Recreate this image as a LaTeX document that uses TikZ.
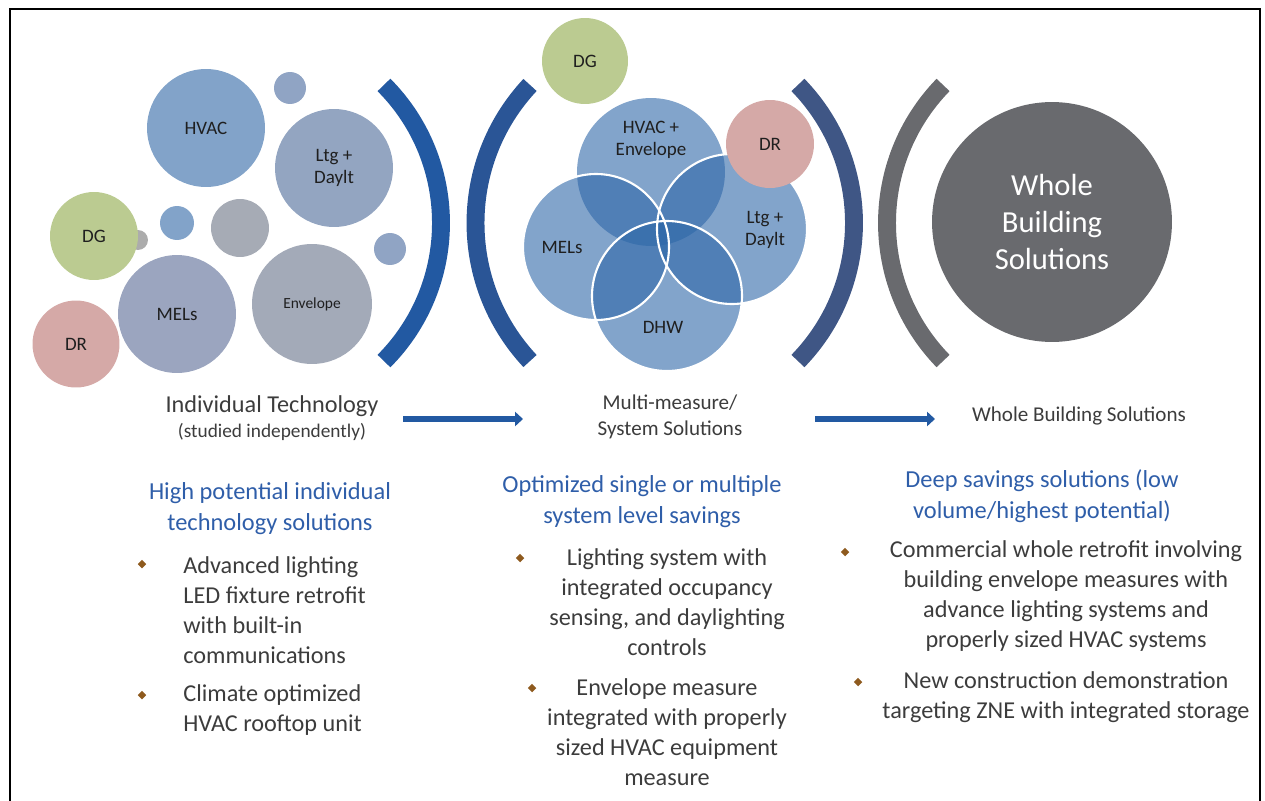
\documentclass[tikz,border=0pt]{standalone}
\usepackage{fontspec}
\setmainfont{Carlito}
\usepackage{xcolor}
\usepackage{tikz}
\usetikzlibrary{arrows.meta}
\usetikzlibrary{shapes.geometric, calc}
\definecolor{hvacblue}{HTML}{82A3C9}
\definecolor{ltgblue}{HTML}{93A5C1}
\definecolor{melsblue}{HTML}{9BA5BF}
\definecolor{envgray}{HTML}{A3AAB8}
\definecolor{dotblue}{HTML}{90A4C4}
\definecolor{dotgray}{HTML}{A6ABB5}
\definecolor{dggreen}{HTML}{BBCB91}
\definecolor{drpink}{HTML}{D5A9A7}
\definecolor{vennblue}{HTML}{2E67A8}
\definecolor{brkblue}{HTML}{2259A2}
\definecolor{brkblueb}{HTML}{2A5596}
\definecolor{brkslate}{HTML}{3F5685}
\definecolor{brkgray}{HTML}{696A6E}
\definecolor{headblue}{HTML}{2F5EA9}
\definecolor{bodygray}{HTML}{3C3C3C}
\definecolor{bulbrown}{HTML}{8E5A1E}

\begin{document}
\begin{tikzpicture}[x=0.02cm, y=-0.02cm,
    bub/.style={circle, inner sep=0pt, minimum size=#1*0.04cm, align=center,
      text=black!88, font=\fontsize{10.8}{12.5}\selectfont},
    venn/.style={circle, inner sep=0pt, minimum size=#1*0.04cm, fill=vennblue, fill opacity=0.6},
    vline/.style={white, line width=1.2pt},
    brk/.style={line width=10.2pt},
    lbl/.style={align=center, inner sep=0pt, text=black!88, font=\fontsize{10.8}{12.5}\selectfont},
    ttl/.style={align=center, inner sep=0pt, text=bodygray, font=\fontsize{12}{14.7}\selectfont},
    head/.style={align=center, inner sep=0pt, text=headblue, font=\fontsize{13.9}{17.6}\selectfont},
    body/.style={inner sep=0pt, text=bodygray, font=\fontsize{13.8}{17}\selectfont},
    dot/.style={diamond, fill=bulbrown, inner sep=0pt, minimum size=5pt},
    flow/.style={-{Triangle[length=4.5pt,width=8pt]}, line width=3.4pt, brkblue}]
        \useasboundingbox (0,0) rectangle (1265,801);

        % Frame
        \draw[line width=0.8pt] (10,801) -- (10,9) -- (1260,9) -- (1260,801);

        % Individual technologies
        \node[bub=10, fill=gray!65] (tiny) at (138,240) {};
        \node[bub=59, fill=hvacblue] (hvac) at (206,128) {HVAC};
        \node[bub=16, fill=dotblue] (dota) at (290,88) {};
        \node[bub=59, fill=ltgblue] (ltg) at (334,168) {Ltg +\\Daylt};
        \node[bub=44, fill=dggreen] (dg) at (94,236) {DG};
        \node[bub=17, fill=hvacblue] (dotb) at (177,223) {};
        \node[bub=29, fill=dotgray] (dotc) at (240,228) {};
        \node[bub=16, fill=dotblue] (dotd) at (390,249) {};
        \node[bub=59, fill=melsblue] (mels) at (177,314) {MELs};
        \node[bub=60, fill=envgray, font=\fontsize{8.8}{10}\selectfont] (env) at (312,304) {Envelope};
        \node[bub=43.5, fill=drpink] (dr) at (76,344) {DR};

        % Brackets
        \draw[brk, brkblue] (245.4,223) ++(-44.9:195.6) arc[start angle=-44.9, end angle=44.9, radius=195.6];
        \draw[brk, brkblueb] (677.5,223) ++(136.9:202) arc[start angle=136.9, end angle=223.1, radius=202];
        \draw[brk, brkslate] (656,223) ++(-44.2:198) arc[start angle=-44.2, end angle=44.2, radius=198];
        \draw[brk, brkgray] (1085,223) ++(135.8:198) arc[start angle=135.8, end angle=224.2, radius=198];

        % Multi-measure
        \node[venn=74] (hvacenv) at (651,172) {};
        \node[venn=75] (ltgday) at (732,229) {};
        \node[venn=73] (melsb) at (596,247) {};
        \node[venn=75] (dhw) at (667,296) {};
        \draw[vline] (ltgday.center) circle (75);
        \draw[vline] (melsb.center) circle (73);
        \draw[vline] (dhw.center) circle (75);
        \node[lbl] (lhvacenv) at (651,140) {HVAC +\\Envelope};
        \node[lbl] (lltgday) at (765,230) {Ltg +\\Daylt};
        \node[lbl] (lmels) at (562,247) {MELs};
        \node[lbl] (ldhw) at (663,327) {DHW};
        \node[bub=43, fill=dggreen] (dgb) at (585,61) {DG};
        \node[bub=44, fill=drpink] (drb) at (770,144) {DR};

        % Whole building
        \node[bub=120, fill=brkgray, text=white, font=\fontsize{17.4}{21}\selectfont] (wbs) at (1052,222) {Whole\\Building\\Solutions};

        % Stages and arrows
        \node[ttl, font=\fontsize{13.8}{16}\selectfont] (indiv) at (272,406) {Individual Technology};
        \node[ttl, font=\fontsize{11}{13}\selectfont] (indivsub) at (272,432) {(studied independently)};
        \node[ttl] (multi) at (670,417) {Multi-measure/\\System Solutions};
        \node[ttl] (whole) at (1079,416) {Whole Building Solutions};
        \coordinate (fa) at (403,419);
        \coordinate (fb) at (523,419);
        \coordinate (fc) at (815,419);
        \coordinate (fd) at (935,419);
        \draw[flow] (fa) -- (fb);
        \draw[flow] (fc) -- (fd);

        % Column 1
        \node[head] (heada) at (270,509) {High potential individual\\technology solutions};
        \node[dot] (ba) at (142,564) {};
        \node[body, align=left, anchor=west] (ta) at (183,610) {Advanced lighting\\LED fixture retrofit\\with built-in\\communications};
        \node[dot] (bb) at (142,695) {};
        \node[body, align=left, anchor=west] (tb) at (183,710) {Climate optimized\\HVAC rooftop unit};

        % Column 2
        \node[head] (headb) at (642,502) {Optimized single or multiple\\system level savings};
        \node[dot] (bc) at (520,558) {};
        \node[body, align=center] (tc) at (667,602) {Lighting system with\\integrated occupancy\\sensing, and daylighting\\controls};
        \node[dot] (bd) at (532,688) {};
        \node[body, align=center] (td) at (667,732) {Envelope measure\\integrated with properly\\sized HVAC equipment\\measure};

        % Column 3
        \node[head] (headc) at (1042,496) {Deep savings solutions (low\\volume/highest potential)};
        \node[dot] (be) at (845,552) {};
        \node[body, align=center] (te) at (1066,596) {Commercial whole retrofit involving\\building envelope measures with\\advance lighting systems and\\properly sized HVAC systems};
        \node[dot] (bf) at (858,682) {};
        \node[body, align=center] (tf) at (1066,697) {New construction demonstration\\targeting ZNE with integrated storage};
    \end{tikzpicture}
\end{document}
